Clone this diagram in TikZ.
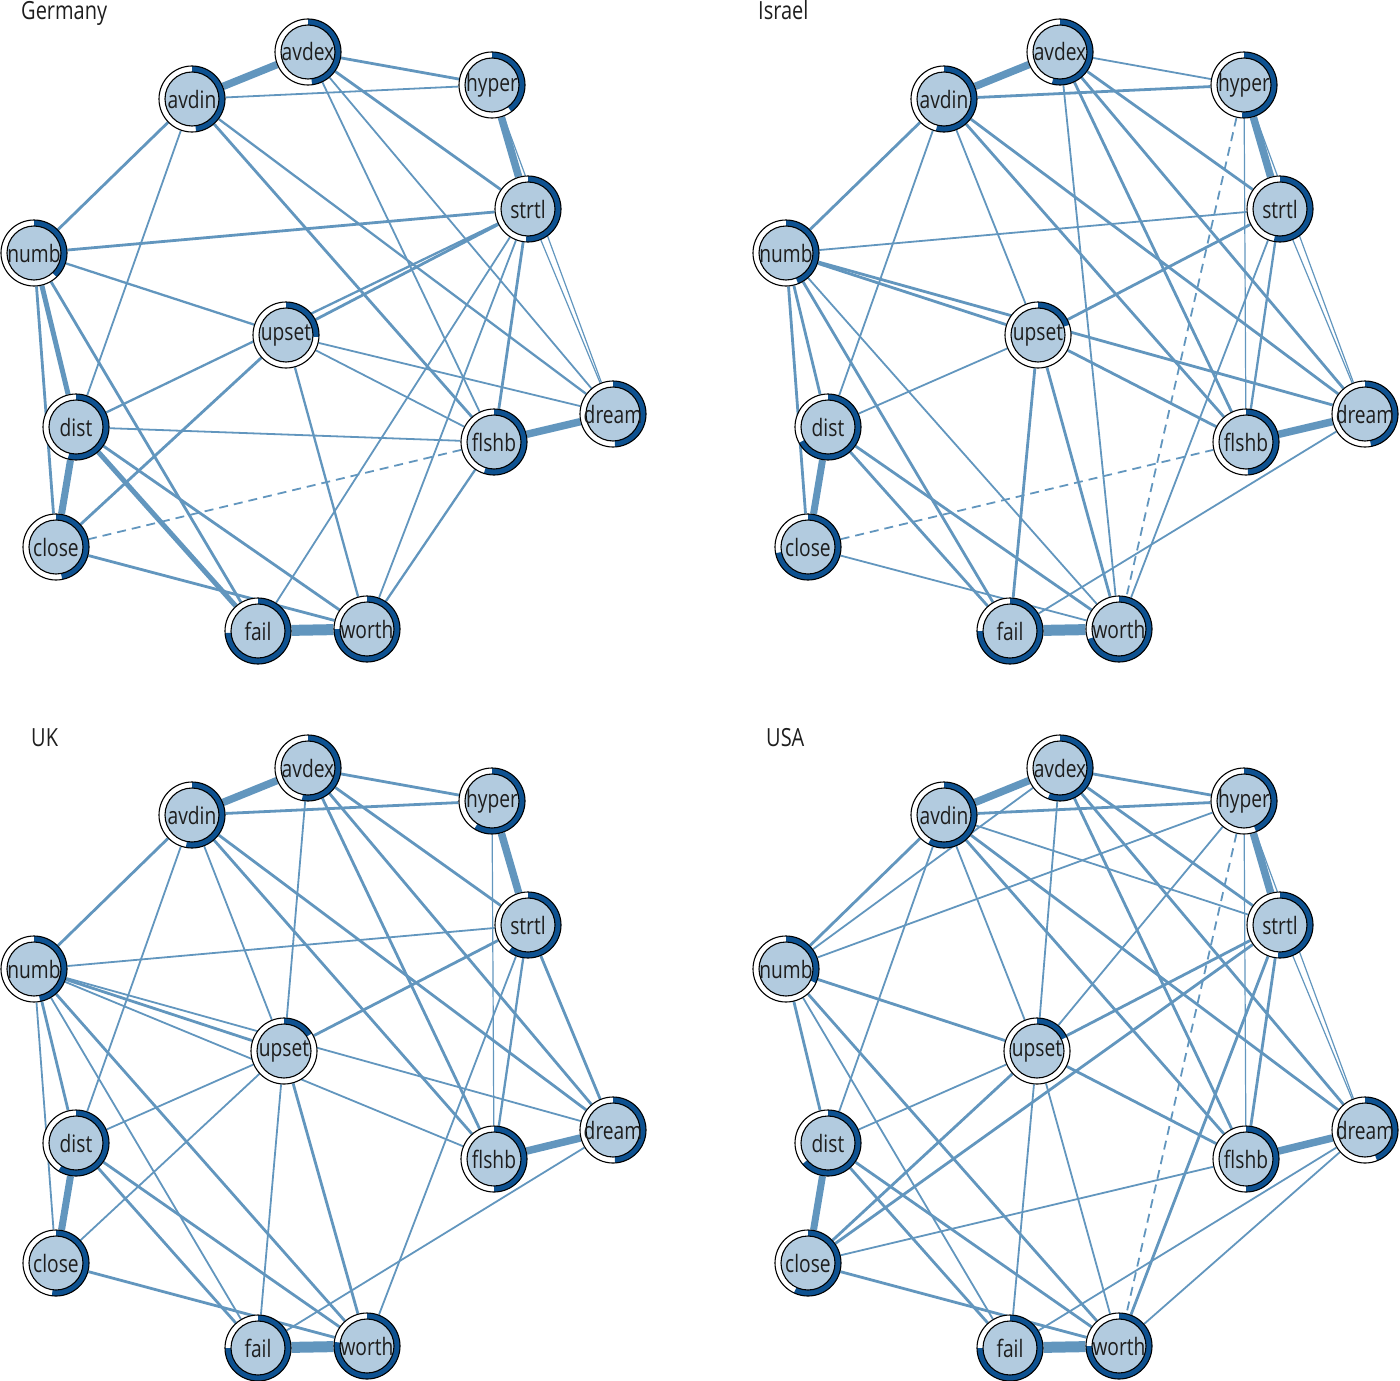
\documentclass[tikz,border=0pt]{standalone}
\usepackage{fontspec}
\setmainfont{Open Sans}[FakeStretch=0.8]
\usetikzlibrary{backgrounds}
\definecolor{edgec}{RGB}{98,150,190}
\definecolor{nodef}{RGB}{178,203,223}
\definecolor{arcc}{RGB}{14,82,145}
\definecolor{txt}{RGB}{30,30,30}
\tikzset{
  nd/.style={circle, minimum size=66pt, inner sep=0pt, fill=white, draw=black,
    line width=1.1pt, font=\fontsize{24}{26}\selectfont, text=txt,
    path picture={
      \fill[arcc] (path picture bounding box.center) -- ++(90:34pt)
        arc[start angle=90, delta angle=-360*#1, radius=34pt] -- cycle;
      \draw[black, line width=1.1pt, fill=nodef]
        (path picture bounding box.center) circle[radius=27pt];}},
  ttl/.style={anchor=base west, inner sep=0pt, font=\fontsize{25}{28}\selectfont, text=txt},
  ed/.style={draw=edgec},
  neg/.style={draw=edgec, dash pattern=on 9pt off 6pt}
}
\newcommand\pedges[2]{\foreach \a/\b/\w in {#2}{\draw[ed, line width=\w pt] (#1-\a) -- (#1-\b);}}
\begin{document}
\begin{tikzpicture}[x=1pt, y=-1pt]
\useasboundingbox (0,0) rectangle (1400,1381);

% ---------- titles
\node[ttl] (tg) at (21,20) {Germany};
\node[ttl] (ti) at (758,20) {Israel};
\node[ttl] (tk) at (31,746) {UK};
\node[ttl] (tu) at (766,746) {USA};

% ---------- Germany nodes
\foreach \n/\x/\y/\f in {avdex/308/52/.48, hyper/492/85/.40, avdin/192/99/.48,
  strtl/528/209/.51, numb/34/253/.38, upset/286/335/.26, dist/76/427/.54,
  dream/613/414/.49, flshb/494/442/.55, close/56/547/.47, fail/258/631/.74,
  worth/367/629/.75}
  {\node[nd=\f] (g-\n) at (\x,\y) {\n};}

% ---------- Israel nodes
\begin{scope}[shift={(752,0)}]
\foreach \n/\x/\y/\f in {avdex/308/52/.54, hyper/492/85/.51, avdin/192/99/.54,
  strtl/528/209/.53, numb/34/253/.44, upset/286/335/.20, dist/76/427/.67,
  dream/613/414/.47, flshb/494/442/.49, close/56/547/.72, fail/258/631/.75,
  worth/367/629/.70}
  {\node[nd=\f] (i-\n) at (\x,\y) {\n};}
\end{scope}

% ---------- UK nodes
\begin{scope}[shift={(0,716)}]
\foreach \n/\x/\y/\f in {avdex/308/52/.53, hyper/492/85/.59, avdin/192/99/.53,
  strtl/528/209/.60, numb/34/253/.47, upset/284/335/.16, dist/76/427/.59,
  dream/613/414/.49, flshb/494/443/.50, close/56/547/.52, fail/258/632/.75,
  worth/367/630/.77}
  {\node[nd=\f] (k-\n) at (\x,\y) {\n};}
\end{scope}

% ---------- USA nodes
\begin{scope}[shift={(752,716)}]
\foreach \n/\x/\y/\f in {avdex/308/52/.56, hyper/492/85/.44, avdin/192/99/.58,
  strtl/528/209/.51, numb/34/253/.32, upset/285/335/.18, dist/76/427/.64,
  dream/613/414/.44, flshb/494/443/.50, close/56/547/.57, fail/258/632/.75,
  worth/367/630/.75}
  {\node[nd=\f] (u-\n) at (\x,\y) {\n};}
\end{scope}

\begin{pgfonlayer}{background}
% ---------- Germany edges
\pedges{g}{avdin/avdex/7.5, avdex/hyper/2.8, avdin/hyper/1.8, avdex/strtl/2.8,
  hyper/strtl/7.5, avdex/flshb/1.8, avdex/dream/1.8, avdin/numb/2.8, avdin/dist/1.8,
  avdin/flshb/2.8, avdin/dream/2.3, numb/strtl/2.8, numb/upset/2.3, numb/dist/5,
  numb/close/2.8, numb/fail/2.8, strtl/upset/2.8, strtl/dist/2.3, strtl/fail/1.8,
  strtl/worth/1.8, strtl/flshb/2.8, strtl/dream/1.2, hyper/dream/1.2,
  upset/dream/1.8, upset/flshb/1.8, upset/worth/2.3, upset/close/2.8,
  dist/flshb/1.8, dist/close/7, dist/fail/5, dist/worth/2.8, close/worth/2.8,
  flshb/dream/7.5, flshb/worth/2.3, fail/worth/11}
\draw[neg, line width=1.8pt] (g-flshb) -- (g-close);

% ---------- Israel edges
\pedges{i}{avdin/avdex/7.5, avdex/hyper/1.8, avdin/hyper/2.8, avdex/strtl/2.8,
  hyper/strtl/7.5, avdex/worth/1.8, avdex/flshb/2.8, avdex/dream/2.8,
  avdin/numb/2.8, avdin/dist/1.8, avdin/upset/1.8, avdin/flshb/2.8,
  avdin/dream/2.8, hyper/flshb/1.2, hyper/dream/1.2, numb/strtl/1.8,
  strtl/upset/2.8, strtl/worth/1.8, strtl/flshb/2.3, strtl/dream/1.2,
  numb/upset/2.8, numb/dream/2.8, upset/flshb/2.8, numb/close/2.8,
  numb/dist/2.8, numb/fail/2.8, numb/worth/1.8, upset/dist/1.8, upset/fail/2.8,
  upset/worth/2.8, dist/close/7, dist/fail/2.8, dist/worth/2.8,
  close/worth/1.8, fail/worth/11, fail/dream/1.8, flshb/dream/7.5}
\draw[neg, line width=1.8pt] (i-close) -- (i-flshb);
\draw[neg, line width=1.8pt] (i-hyper) -- (i-worth);

% ---------- UK edges
\pedges{k}{avdin/avdex/7.5, avdex/hyper/2.8, avdin/hyper/2.8, avdex/strtl/2.8,
  hyper/strtl/7.5, avdex/upset/1.8, avdex/flshb/2.8, avdex/dream/2.8,
  avdin/numb/2.8, avdin/dist/1.8, avdin/upset/1.8, avdin/flshb/2.8,
  avdin/dream/2.8, hyper/flshb/1.2, numb/strtl/1.8, strtl/upset/2.8,
  strtl/worth/1.8, strtl/flshb/2.3, strtl/dream/2.8, numb/upset/2.8,
  numb/flshb/1.8, numb/dream/1.8, numb/close/1.8, numb/dist/2.8,
  numb/fail/1.8, numb/worth/2.8, upset/dist/1.8, upset/close/1.8,
  upset/fail/1.8, upset/worth/2.8, dist/close/7, dist/fail/2.8,
  dist/worth/2.8, close/worth/2.8, fail/worth/11, fail/dream/1.8, flshb/dream/7.5}

% ---------- USA edges
\pedges{u}{avdin/avdex/7.5, avdex/hyper/2.8, avdin/hyper/2.8, avdex/strtl/2.8,
  hyper/strtl/7.5, avdex/numb/1.8, avdex/upset/1.8, avdex/flshb/2.8,
  avdex/dream/2.8, avdin/numb/2.8, avdin/dist/1.8, avdin/upset/1.8,
  avdin/strtl/1.8, avdin/flshb/2.8, avdin/dream/2.8, hyper/numb/1.8,
  hyper/upset/1.8, hyper/flshb/1.2, hyper/dream/1.2, strtl/upset/2.8,
  strtl/close/2.8, strtl/worth/2.8, strtl/flshb/2.8, strtl/dream/1.2,
  numb/upset/2.8, numb/dist/2.8, numb/fail/1.8, numb/worth/2.8,
  upset/dist/1.8, upset/close/2.8, upset/fail/1.8, upset/worth/1.8,
  upset/flshb/2.8, dist/close/7, dist/fail/2.8, dist/worth/2.8,
  close/flshb/1.8, close/worth/2.8, fail/worth/11, fail/dream/1.8,
  worth/dream/1.8, flshb/dream/7.5}
\draw[neg, line width=1.8pt] (u-hyper) -- (u-worth);
\end{pgfonlayer}
\end{tikzpicture}
\end{document}
